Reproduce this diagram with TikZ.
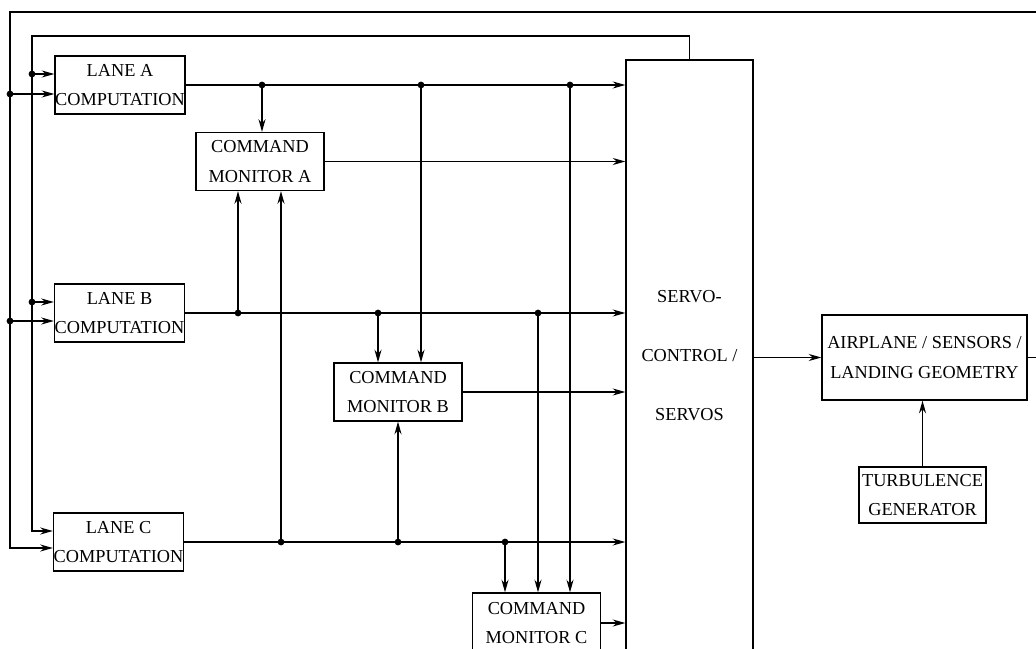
\documentclass[tikz,border=0pt]{standalone}
\usepackage{fontspec}
\setmainfont{Liberation Serif}
\usetikzlibrary{positioning, arrows.meta, calc}
\tikzset{
  blk/.style={draw, line width=0.9pt, inner xsep=-1pt, inner ysep=0pt, align=center,
    font=\fontsize{13}{21}\selectfont},
  lanebox/.style={blk, minimum width=3.25cm, minimum height=1.45cm},
  monbox/.style={blk, minimum width=3.2cm, minimum height=1.45cm},
  arr/.style={-{Stealth[length=9pt,width=5pt]}, line width=0.9pt},
}
\begin{document}
\begin{tikzpicture}[x=0.025cm, y=-0.025cm]
  \useasboundingbox (0,0) rectangle (1036,649);
  % blocks
  \node[lanebox] (laneA) at (120,85) {LANE A\\COMPUTATION};
  \node[lanebox] (laneB) at (119.5,313) {LANE B\\COMPUTATION};
  \node[lanebox] (laneC) at (118.5,542) {LANE C\\COMPUTATION};
  \node[monbox] (cmdA) at (260,161.5) {COMMAND\\MONITOR A};
  \node[monbox] (cmdB) at (398,392) {COMMAND\\MONITOR B};
  \node[monbox, minimum height=1.5cm] (cmdC) at (536.5,623) {COMMAND\\MONITOR C};
  \node[blk, minimum width=3.175cm, minimum height=14.8cm] (servo) at (689.5,356)
    {SERVO-\\[21pt]CONTROL /\\[21pt]SERVOS};
  \node[blk, minimum width=5.125cm, minimum height=2.125cm] (plane) at (924.5,357.5)
    {AIRPLANE / SENSORS /\\LANDING GEOMETRY};
  \node[blk, minimum width=3.175cm, minimum height=1.4cm] (turb) at (922.5,495)
    {TURBULENCE\\GENERATOR};

  % lane outputs to servos
  \draw[arr] (laneA.east) -- (laneA.east -| servo.west);
  \draw[arr] (laneB.east) -- (laneB.east -| servo.west);
  \draw[arr] (laneC.east) -- (laneC.east -| servo.west);
  \draw[arr] (cmdA.east) -- (cmdA.east -| servo.west);
  \draw[arr] (cmdB.east) -- (cmdB.east -| servo.west);
  \draw[arr] (cmdC.east) -- (cmdC.east -| servo.west);

  % taps to the monitors
  \coordinate (jA1) at (262,85);
  \coordinate (jA2) at (421,85);
  \coordinate (jA3) at (570,85);
  \coordinate (jB1) at (238,313);
  \coordinate (jB2) at (378,313);
  \coordinate (jB3) at (538,313);
  \coordinate (jC1) at (281,542);
  \coordinate (jC2) at (398,542);
  \coordinate (jC3) at (505,542);
  \draw[arr] (jA1) -- (jA1 |- cmdA.north);
  \draw[arr] (jA2) -- (jA2 |- cmdB.north);
  \draw[arr] (jA3) -- (jA3 |- cmdC.north);
  \draw[arr] (jB1) -- (jB1 |- cmdA.south);
  \draw[arr] (jB2) -- (jB2 |- cmdB.north);
  \draw[arr] (jB3) -- (jB3 |- cmdC.north);
  \draw[arr] (jC1) -- (jC1 |- cmdA.south);
  \draw[arr] (jC2) -- (jC2 |- cmdB.south);
  \draw[arr] (jC3) -- (jC3 |- cmdC.north);

  % servo feedback
  \coordinate (srvA) at (32,74);
  \coordinate (srvB) at (32,302);
  \draw[arr] (servo.north) |- (32,36) |- (laneC.west |- 0,531);
  \draw[arr] (srvA) -- (laneA.west |- srvA);
  \draw[arr] (srvB) -- (laneB.west |- srvB);

  % airplane feedback
  \coordinate (fbA) at (10,94);
  \coordinate (fbB) at (10,321);
  \draw[arr] (plane.east) -- (plane.east -| 1045,0) |- (10,12) |- (laneC.west |- 0,548);
  \draw[arr] (fbA) -- (laneA.west |- fbA);
  \draw[arr] (fbB) -- (laneB.west |- fbB);

  \draw[arr] (servo.east |- plane.west) -- (plane.west);
  \draw[arr] (turb.north) -- (turb.north |- plane.south);

  \foreach \j in {jA1,jA2,jA3,jB1,jB2,jB3,jC1,jC2,jC3,srvA,srvB,fbA,fbB}
    \fill (\j) circle (2.4pt);
\end{tikzpicture}
\end{document}
